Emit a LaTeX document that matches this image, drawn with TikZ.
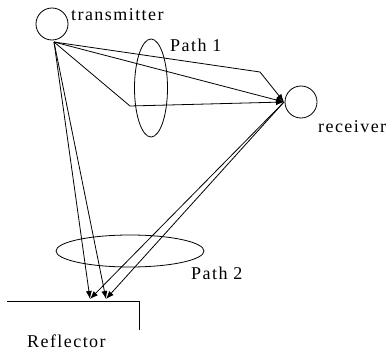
\documentclass[tikz,border=0pt]{standalone}
\usepackage{fontspec}
\setmainfont{Liberation Serif}[LetterSpace=8]
\usetikzlibrary{arrows.meta,shapes.geometric}
\begin{document}
\begin{tikzpicture}[x=1pt,y=-1pt,
  wire/.style={line width=0.8pt,black},
  ray/.style={wire,-{Latex[length=8pt,width=6pt]}},
  station/.style={circle,draw,line width=0.8pt,minimum size=32pt,inner sep=0pt},
  oval/.style={draw,ellipse,line width=0.8pt,inner sep=0pt},
  lbl/.style={font=\fontsize{18}{20}\selectfont,inner sep=0pt,anchor=base west}]
\useasboundingbox (0,0) rectangle (388,353);
% stations
\node[station] (tx) at (52,24) {};
\node[station] (rx) at (301,102) {};
\coordinate (tp) at (54,42);
\coordinate (rp) at (284,102);
% path 1
\coordinate (b1) at (260,72);
\coordinate (b2) at (130,106);
\draw[ray] (tp) -- (b1) -- (rp);
\draw[ray] (tp) -- (rp);
\draw[ray] (tp) -- (b2) -- (rp);
\node[oval,minimum width=33pt,minimum height=98pt] (e1) at (151,88) {};
% reflector
\coordinate (r0) at (7,301);
\coordinate (r1) at (139,301);
\coordinate (r2) at (139,330);
\draw[wire] (r0) -- (r1) -- (r2);
\coordinate (h1) at (90,299);
\coordinate (h2) at (106,299);
\draw[ray] (tp) -- (h1);
\draw[ray] (tp) -- (h2);
\draw[ray] (rp) -- (h1);
\draw[ray] (rp) -- (h2);
\node[oval,minimum width=148pt,minimum height=32pt] (e2) at (130,251) {};
% labels
\node[lbl] (ltx) at (71,21) {transmitter};
\node[lbl] (lp1) at (170,52) {Path 1};
\node[lbl] (lrx) at (318,132) {receiver};
\node[lbl] (lp2) at (191,279) {Path 2};
\node[lbl] (lrf) at (27,347) {Reflector};
\end{tikzpicture}
\end{document}
